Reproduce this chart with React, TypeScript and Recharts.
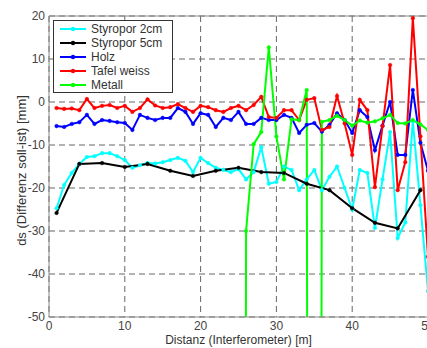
import React from 'react';
import { LineChart, Line, XAxis, YAxis, CartesianGrid, Legend, ReferenceLine } from 'recharts';

const distanz = [1,2,3,4,5,6,7,8,9,10,11,12,13,14,15,16,17,18,19,20,21,22,23,24,25,26,27,28,29,30,31,32,33,34,35,36,37,38,39,40,41,42,43,44,45,46,47,48,49,50];
const styropor2cm = [-24.7,-19.3,-16.5,-14.4,-12.8,-12.6,-11.9,-11.9,-12.6,-13.5,-15.3,-14.7,-14.2,-14.3,-14.0,-13.5,-13.0,-13.7,-16.3,-13.0,-14.2,-15.3,-15.8,-16.3,-15.6,-18.0,-16.3,-10.5,-19.0,-18.6,-15.0,-15.8,-20.5,-18.0,-15.8,-20.5,-17.4,-15.0,-20.0,-25.0,-15.8,-16.5,-29.3,-18.0,-7.0,-31.6,-28.0,-4.5,-24.0,-44.0];
const holz = [-5.6,-5.8,-5.1,-4.7,-3.0,-5.1,-4.2,-4.4,-4.7,-4.9,-6.5,-3.0,-3.7,-4.2,-3.7,-3.7,-1.4,-2.3,-5.1,-2.6,-3.0,-5.8,-3.7,-4.2,-2.3,-5.1,-5.1,-3.7,-4.2,-4.2,-3.0,-3.7,-7.2,-5.3,-4.9,-6.9,-5.3,-2.6,-4.2,-7.2,-1.9,-3.5,-11.2,-5.5,0.0,-12.3,-12.3,2.8,-9.5,-16.0];
const tafelWeiss = [-1.4,-1.6,-1.5,-1.9,0.7,-1.4,-0.9,-0.7,-1.4,-0.9,-2.3,-1.4,0.6,-0.8,-1.4,-1.2,-0.5,-1.4,-2.3,-0.9,-1.2,-1.9,-2.3,-1.4,-0.9,-1.9,-0.7,1.2,-3.5,-3.7,-1.9,-1.9,-4.2,0.5,0.9,-6.5,-5.8,1.4,-5.0,-12.3,0.5,-1.9,-19.8,-5.6,8.6,-20.5,-14.0,19.5,-8.0,-36.0];
const styropor5cmX = [1,4,7,10,13,16,19,22,25,28,31,34,37,40,43,46,49];
const styropor5cm = [-25.8,-14.4,-14.2,-15.1,-14.4,-16.0,-17.2,-16.0,-15.3,-16.3,-16.5,-19.0,-20.5,-24.7,-28.1,-29.4,-20.5];
const metallX = [25,26,27,28,29,30,31,32,33,34,35,36,37,38,39,40,41,42,43,44,45,46,47,48,49,50];
const metall = [-1000,-30.0,-9.8,-7.0,12.7,-8.0,-18.0,-4.0,-4.2,2.8,-1000,-4.6,-4.2,-3.2,-4.2,-5.5,-4.3,-4.8,-4.5,-3.8,-3.0,-4.9,-5.0,-4.2,-5.2,-6.5];

const xTicks = [0, 10, 20, 30, 40, 50];
const yTicks = [-50, -40, -30, -20, -10, 0, 10, 20];
const seriesNames = ['Styropor 2cm', 'Styropor 5cm', 'Holz', 'Tafel weiss', 'Metall'];
const seriesColors = ['#00ffff', '#000000', '#0000ff', '#ff0000', '#00ff00'];
const xLabel = 'Distanz (Interferometer) [m]';
const yLabel = 'ds (Differenz soll-ist) [mm]';

const toPoints = (xs: number[], ys: number[]) => xs.map((x, i) => ({ x, y: ys[i] }));

const seriesData = [
  toPoints(distanz, styropor2cm),
  toPoints(styropor5cmX, styropor5cm),
  toPoints(distanz, holz),
  toPoints(distanz, tafelWeiss),
  toPoints(metallX, metall),
];

const FONT = '"Liberation Sans", Arial, sans-serif';

const renderLegend = () => (
  <div
    style={{
      width: 118,
      height: 70,
      paddingTop: 1,
      border: '1px solid #333',
      background: '#fff',
      fontFamily: FONT,
      fontSize: 12,
      color: '#333',
    }}
  >
    {seriesNames.map((name, i) => (
      <div key={name} style={{ height: 14, display: 'flex', alignItems: 'center', lineHeight: '14px' }}>
        <svg width={26} height={14} style={{ marginLeft: 6, marginRight: 5, display: 'block' }}>
          <line x1={0} y1={7} x2={26} y2={7} stroke={seriesColors[i]} strokeWidth={2} />
          <circle cx={13} cy={7} r={2.2} fill={seriesColors[i]} />
        </svg>
        <span style={{ whiteSpace: 'nowrap' }}>{name}</span>
      </div>
    ))}
  </div>
);

const YLabel = (props: any) => {
  const vb = props.viewBox || { x: 4, y: 16, width: 45, height: 301 };
  const cx = vb.x + 17;
  const cy = vb.y + vb.height / 2 + 4;
  return (
    <text
      x={cx}
      y={cy}
      textAnchor="middle"
      dominantBaseline="central"
      transform={`rotate(-90, ${cx}, ${cy})`}
      fill="#333"
      fontSize={13}
      fontFamily={FONT}
    >
      {yLabel}
    </text>
  );
};

export default function App() {
  return (
    <div style={{ position: 'absolute', left: 0, top: 0, width: 427, height: 348, overflow: 'hidden', background: '#fff' }}>
      <LineChart width={427} height={348} margin={{ top: 16, right: -1, bottom: 6, left: 4 }}>
        <CartesianGrid stroke="#666" strokeDasharray="6 4" />
        <XAxis
          type="number"
          dataKey="x"
          domain={[0, 50]}
          ticks={xTicks}
          interval={0}
          allowDataOverflow
          height={25}
          tickLine={false}
          tickSize={2}
          tickMargin={2}
          axisLine={{ stroke: '#888' }}
          tick={{ fill: '#444', fontSize: 12, fontFamily: FONT }}
          label={{ value: xLabel, position: 'insideBottom', offset: -2, fill: '#333', fontSize: 12, fontFamily: FONT }}
        />
        <YAxis
          type="number"
          domain={[-50, 20]}
          ticks={yTicks}
          interval={0}
          allowDataOverflow
          width={45}
          tickLine={false}
          tickSize={2}
          tickMargin={2}
          axisLine={{ stroke: '#888' }}
          tick={{ fill: '#444', fontSize: 12, fontFamily: FONT }}
          label={{ value: yLabel, content: YLabel }}
        />
        <ReferenceLine y={20} stroke="#888" strokeWidth={1} />
        {seriesNames.map((name, i) => (
          <Line
            key={name}
            name={name}
            data={seriesData[i]}
            dataKey="y"
            type="linear"
            stroke={seriesColors[i]}
            strokeWidth={2}
            dot={{ r: 1.8, fill: seriesColors[i], stroke: seriesColors[i], strokeWidth: 0.5 }}
            activeDot={false}
            isAnimationActive={false}
          />
        ))}
        <Legend
          layout="vertical"
          align="center"
          verticalAlign="middle"
          content={renderLegend}
          wrapperStyle={{ top: 20, left: 53, width: 120, height: 73 }}
        />
      </LineChart>
    </div>
  );
}
